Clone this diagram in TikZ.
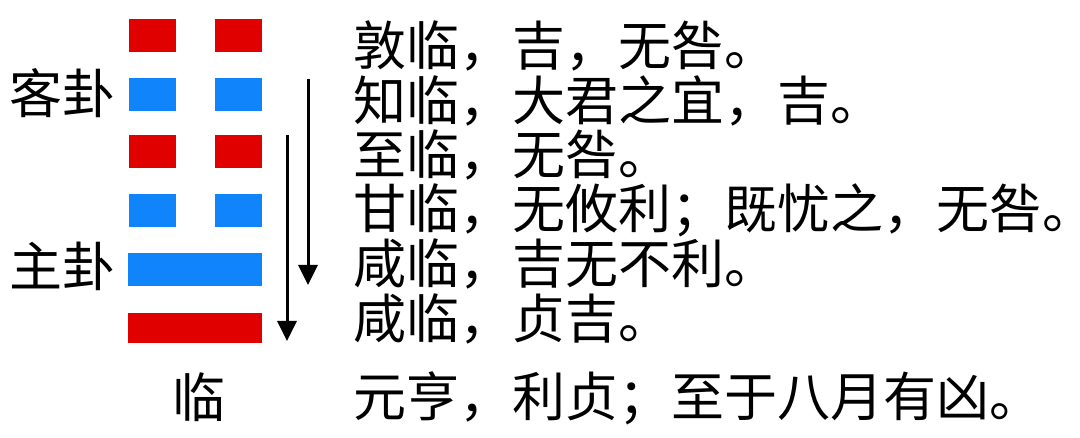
\documentclass[tikz,border=0pt]{standalone}
\usepackage{fontspec}
\newfontfamily\cjk{Noto Sans CJK SC}
\usetikzlibrary{arrows.meta}
\definecolor{yangred}{RGB}{224,0,0}
\definecolor{yinblue}{RGB}{16,132,250}
% full stop without its trailing blank half
\newcommand{\juhao}{\makebox[0.5em][l]{。}}

\begin{document}
\begin{tikzpicture}[x=1pt, y=-1pt,
    every node/.style={inner sep=0pt, font=\cjk\fontsize{53}{54}\selectfont},
    halfyao/.style={minimum width=47pt, minimum height=33pt},
    wholeyao/.style={minimum width=134pt, minimum height=33pt},
    yaoci/.style={anchor=west},
    flow/.style={-{Triangle[length=20pt,width=19pt]}, line width=3pt}]

    \useasboundingbox[fill=white] (0,0) rectangle (1080,438);

    % broken lines
    \foreach \n/\y/\c in {1/36/yangred, 2/95/yinblue, 3/152/yangred, 4/211/yinblue} {
        \node[halfyao, fill=\c] (yao\n l) at (152,\y) {};
        \node[halfyao, fill=\c] (yao\n r) at (238.5,\y) {};
    }
    % solid lines
    \node[wholeyao, fill=yinblue] (yao5) at (195,270) {};
    \node[wholeyao, fill=yangred, minimum height=30pt] (yao6) at (195,328) {};

    \node[anchor=east] (kegua) at (116,93) {客卦};
    \node[anchor=east] (zhugua) at (116,266) {主卦};
    \node (lin) at (199,397) {临};

    \foreach \n/\y/\t in {1/46/{敦临，吉，无咎\juhao}, 2/101/{知临，大君之宜，吉\juhao},
        3/155/{至临，无咎\juhao}, 4/210/{甘临，无攸利；既忧之，无咎\juhao},
        5/264/{咸临，吉无不利\juhao}, 6/319/{咸临，贞吉\juhao}, 7/398/{元亨，利贞；至于八月有凶\juhao}} {
        \node[yaoci] (ci\n) at (353,\y) {\t};
    }

    \coordinate (kestart) at (308,79);
    \coordinate (keend) at (308,285);
    \coordinate (zhustart) at (287,135);
    \coordinate (zhuend) at (287,341);
    \draw[flow] (kestart) -- (keend);
    \draw[flow] (zhustart) -- (zhuend);
\end{tikzpicture}
\end{document}
